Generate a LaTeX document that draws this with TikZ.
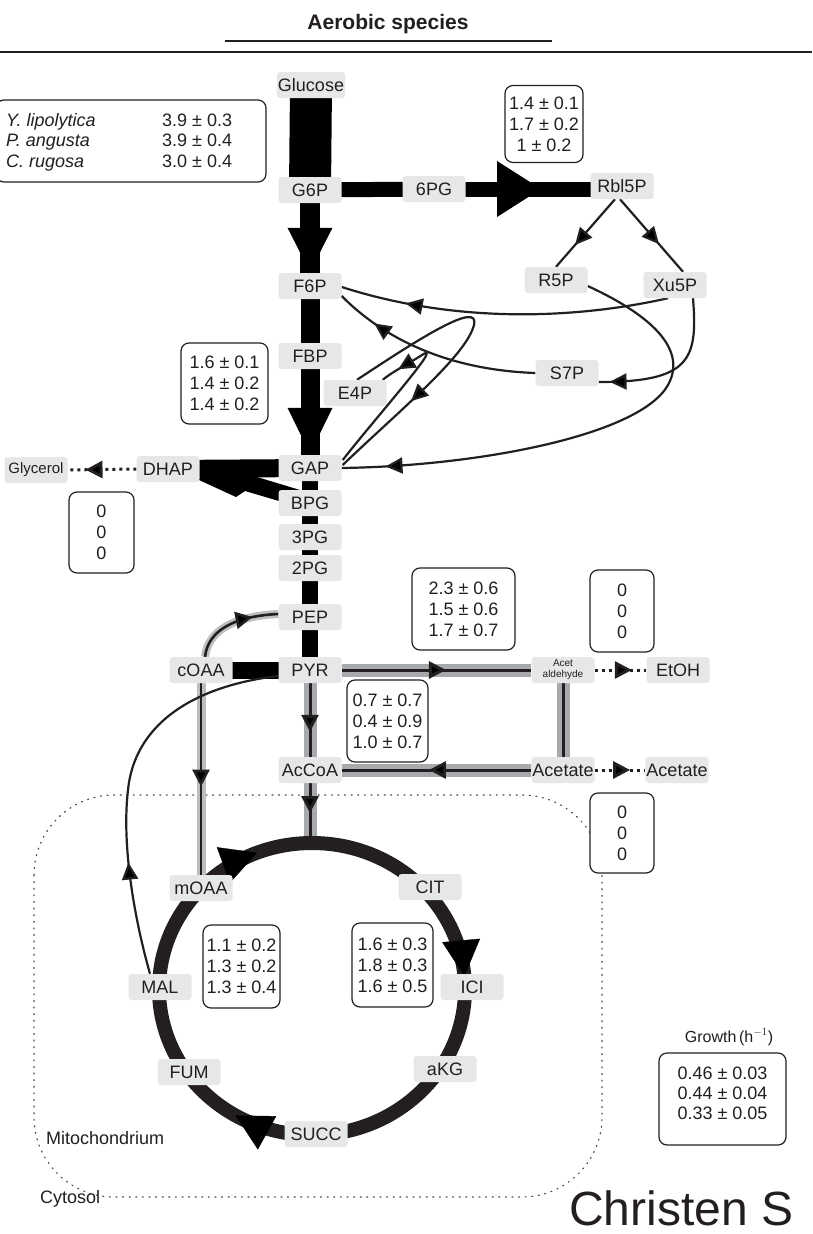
\documentclass[tikz,border=0pt]{standalone}
\usepackage{fontspec}
\setmainfont{Liberation Sans}
\usetikzlibrary{arrows.meta,decorations.markings,calc}
\definecolor{nodegray}{HTML}{E6E7E8}
\definecolor{bandgray}{HTML}{A7A9AC}
\definecolor{ink}{HTML}{231F20}
\pgfdeclarelayer{bg}
\pgfsetlayers{bg,main}
\begin{document}
\begin{tikzpicture}[x=1pt,y=-1pt,color=ink,
 met/.style={fill=nodegray, rounded corners=3pt, minimum width=63pt, minimum height=26pt, inner sep=1pt, font=\fontsize{18}{20}\selectfont},
 fluxbox/.style={draw=ink, fill=white, line width=1.2pt, rounded corners=8pt, align=center, inner sep=0pt, font=\fontsize{18}{21}\selectfont},
 lbl/.style={font=\fontsize{18}{20}\selectfont, inner sep=0pt},
 thinline/.style={draw=ink, line width=2.2pt},
 midarrow/.style={postaction={decorate}, decoration={markings, mark=at position #1 with {\arrow{Triangle[length=17pt,width=16pt]}}}},
 bigmid/.style={postaction={decorate}, decoration={markings, mark=at position #1 with {\arrow{Triangle[length=17pt,width=17pt]}}}},
 ringarrow/.style={postaction={decorate}, decoration={markings, mark=at position 1 with {\arrow{Triangle[length=36pt,width=38pt]}}}},
 band/.style={draw=bandgray, line width=13pt},
 core/.style={draw=ink, line width=3pt},
 dotline/.style={draw=ink, line width=3pt, dash pattern=on 3pt off 4pt},
 mitoline/.style={draw=ink!85, line width=1.1pt, dash pattern=on 1.1pt off 5.5pt, line cap=round},
 ringline/.style={draw=ink, line width=14pt}
]
\useasboundingbox (0,0) rectangle (812,1234);

% ---------- title ----------
\node[font=\bfseries\fontsize{21}{24}\selectfont] (title) at (388,24) {Aerobic species};
\draw[line width=1.3pt] (225,41) -- (552,41);
\draw[line width=1.3pt] (0,52) -- (812,52);

% ---------- metabolites ----------
\node[met, minimum width=68pt] (glucose) at (311,85) {Glucose};
\node[met] (g6p) at (310,190) {G6P};
\node[met] (pg6) at (434,189) {6PG};
\node[met] (rbl5p) at (622,186) {Rbl5P};
\node[met] (r5p) at (556,280) {R5P};
\node[met] (xu5p) at (675,285) {Xu5P};
\node[met] (f6p) at (310,286) {F6P};
\node[met] (fbp) at (310,356) {FBP};
\node[met] (s7p) at (567,373) {S7P};
\node[met] (e4p) at (355,393) {E4P};
\node[met] (gap) at (310,468) {GAP};
\node[met] (dhap) at (168,469) {DHAP};
\node[met, font=\fontsize{15}{17}\selectfont] (glycerol) at (36,470) {Glycerol};
\node[met] (bpg) at (310,503) {BPG};
\node[met] (pg3) at (310,537) {3PG};
\node[met] (pg2) at (310,568) {2PG};
\node[met] (pep) at (310,617) {PEP};
\node[met] (pyr) at (310,670) {PYR};
\node[met] (coaa) at (201,670) {cOAA};
\node[met, align=center, font=\fontsize{10}{11}\selectfont] (acet) at (563,670) {Acet\\aldehyde};
\node[met] (etoh) at (678,670) {EtOH};
\node[met] (accoa) at (310,770) {AcCoA};
\node[met] (acetate) at (563,770) {Acetate};
\node[met] (acetate2) at (677,770) {Acetate};
\node[met] (moaa) at (201,888) {mOAA};
\node[met] (cit) at (430,887) {CIT};
\node[met] (mal) at (160,987) {MAL};
\node[met] (ici) at (472,987) {ICI};
\node[met] (fum) at (189,1072) {FUM};
\node[met] (akg) at (445,1069) {aKG};
\node[met] (succ) at (316,1134) {SUCC};

\coordinate (tca) at (312,989);
\coordinate (ringtop) at ($(tca)+(270:153 and 146)$);

% ---------- connectors (background layer) ----------
\begin{pgfonlayer}{bg}
 \fill[white] (0,0) rectangle (812,1234);
 % mitochondrion
 \draw[mitoline, rounded corners=80pt] (34,795) rectangle (602,1197);

 % thick glycolysis / PPP bars
 \draw[line width=42pt] (glucose.center) -- (g6p.center);
 \draw[line width=15pt] (g6p.center) -- (pg6.center);
 \draw[line width=15pt] (pg6.center) -- (pg6.center -| rbl5p.center);
 \fill ($(pg6.center)+(63,-28)$) -- ($(pg6.center)+(63,28)$) -- ($(pg6.center)+(107,0)$) -- cycle;
 \draw[line width=20pt] (g6p.center) -- (f6p.center);
 \fill ($(f6p.north)+(-22.5,-45)$) -- ($(f6p.north)+(22.5,-45)$) -- ($(f6p.north)+(0,-1)$) -- cycle;
 \draw[line width=19pt] (f6p.center) -- (gap.center);
 \fill ($(gap.north)+(-22.5,-47)$) -- ($(gap.north)+(22.5,-47)$) -- ($(gap.north)+(0,-1)$) -- cycle;
 \draw[line width=16pt] (gap.center) -- (pyr.center);
 \draw[line width=17pt] (coaa.center) -- (pyr.center);
 % DHAP <- GAP / BPG
 \draw[line width=18pt] (dhap.center) -- (gap.center);
 \fill (257,477) -- (300,490) -- (296,506) -- (245,491) -- (236,497) -- (199,480) -- (199,468) -- cycle;

 % PPP thin arrows
 \draw[thinline, midarrow=0.68] ($(rbl5p.south)+(-7,0)$) -- ($(r5p.north)+(0,0)$);
 \draw[thinline, midarrow=0.62] ($(rbl5p.south)+(-2,0)$) -- ($(xu5p.north)+(8,0)$);
 \draw[thinline, midarrow=0.8] ($(xu5p.south)+(-7,0)$) .. controls (580,318) and (460,325) .. ($(f6p.east)+(0,1)$);
 \draw[thinline, midarrow=0.8] (s7p.west) .. controls (450,370) and (385,340) .. ($(f6p.east)+(0,10)$);
 \draw[thinline, midarrow=0.93] ($(xu5p.south)+(18,0)$) .. controls (698,360) and (690,382) .. ($(s7p.east)+(0,9)$);
 \draw[thinline, midarrow=0.91] ($(r5p.east)+(0,6)$) .. controls (640,310) and (690,345) .. (668,385) .. controls (640,435) and (480,466) .. ($(gap.east)+(0,0)$);
 \draw[thinline, midarrow=0.72] ($(e4p.north)+(2,0)$) .. controls (420,338) and (480,300) .. (474,325) .. controls (466,356) and (400,410) .. ($(gap.east)+(1,-3)$);
 \draw[thinline, midarrow=0.9] ($(gap.east)+(1,-8)$) .. controls (378,415) and (445,340) .. (422,355) .. controls (408,364) and (392,372) .. ($(e4p.north east)+(-4,0)$);

 % dotted outputs
 \draw[dotline, bigmid=0.74] (dhap.west) -- (glycerol.east);
 \draw[dotline, bigmid=0.72] (acet.east) -- (etoh.west);
 \draw[dotline, bigmid=0.7] (acetate.east) -- (acetate2.west);

 % grey-banded fluxes
 \draw[band] (pyr.east) -- (acet.west);
 \draw[core, bigmid=0.55] (pyr.east) -- (acet.west);
 \draw[band] (acet.south) -- (acetate.north);
 \draw[core] (acet.south) -- (acetate.north);
 \draw[band] (acetate.west) -- (accoa.east);
 \draw[core, bigmid=0.54] (acetate.west) -- (accoa.east);
 \draw[band] (pyr.south) -- (accoa.north);
 \draw[core, bigmid=0.66] (pyr.south) -- (accoa.north);
 \draw[band] (accoa.south) -- (accoa.south |- ringtop);
 \draw[core, bigmid=0.5] (accoa.south) -- (accoa.south |- ringtop);
 \draw[draw=bandgray!75, line width=9pt] (coaa.south) -- (moaa.north);
 \draw[draw=ink, line width=2.6pt, bigmid=0.54] (coaa.south) -- (moaa.north);
 \draw[draw=bandgray!75, line width=8pt] ($(coaa.north)+(4,0)$) .. controls (208,630) and (235,616) .. ($(pep.west)+(0,-3)$);
 \draw[draw=ink, line width=2.6pt, bigmid=0.72] ($(coaa.north)+(4,0)$) .. controls (208,630) and (235,616) .. ($(pep.west)+(0,-3)$);

 % MAL -> PYR
 \draw[thinline, midarrow=0.29] ($(mal.north)+(-10,0)$) .. controls (132,910) and (122,840) .. (128,790) .. controls (135,720) and (200,685) .. ($(pyr.west)+(0,6)$);

 % TCA ring
 \draw[ringline] (tca) ellipse [x radius=153, y radius=146];
 \path[ringarrow] ($(tca)+(200:153 and 146)$) arc[start angle=200, end angle=249, x radius=153, y radius=146];
 \path[ringarrow] ($(tca)+(300:153 and 146)$) arc[start angle=300, end angle=355, x radius=153, y radius=146];
 \path[ringarrow] ($(tca)+(60:153 and 146)$) arc[start angle=60, end angle=120, x radius=153, y radius=146];
\end{pgfonlayer}

% ---------- flux boxes ----------
\node[fluxbox, minimum width=270pt, minimum height=82pt] (spbox) at (131,141) {};
\node[lbl, anchor=base west, font=\itshape\fontsize{18}{20}\selectfont] (sp1) at (6,126.5) {Y. lipolytica};
\node[lbl, anchor=base west, font=\itshape\fontsize{18}{20}\selectfont] (sp2) at (6,146.5) {P. angusta};
\node[lbl, anchor=base west, font=\itshape\fontsize{18}{20}\selectfont] (sp3) at (6,167) {C. rugosa};
\node[lbl, anchor=base west] (v1) at (162,126.5) {3.9 ± 0.3};
\node[lbl, anchor=base west] (v2) at (162,146.5) {3.9 ± 0.4};
\node[lbl, anchor=base west] (v3) at (162,167) {3.0 ± 0.4};

\node[fluxbox, minimum width=78pt, minimum height=77pt] (box1) at (544,124) {1.4 ± 0.1\\1.7 ± 0.2\\1 ± 0.2};
\node[fluxbox, minimum width=87pt, minimum height=81pt] (box2) at (224.5,383.5) {1.6 ± 0.1\\1.4 ± 0.2\\1.4 ± 0.2};
\node[fluxbox, minimum width=65pt, minimum height=81pt] (box3) at (101.5,532.5) {0\\0\\0};
\node[fluxbox, minimum width=103pt, minimum height=82pt] (box4) at (463.5,609) {2.3 ± 0.6\\1.5 ± 0.6\\1.7 ± 0.7};
\node[fluxbox, minimum width=64pt, minimum height=82pt] (box5) at (622,611) {0\\0\\0};
\node[fluxbox, minimum width=81pt, minimum height=82pt] (box6) at (387.5,721) {0.7 ± 0.7\\0.4 ± 0.9\\1.0 ± 0.7};
\node[fluxbox, minimum width=64pt, minimum height=80pt] (box7) at (622,833) {0\\0\\0};
\node[fluxbox, minimum width=77pt, minimum height=83pt] (box8) at (241.5,966.5) {1.1 ± 0.2\\1.3 ± 0.2\\1.3 ± 0.4};
\node[fluxbox, minimum width=81pt, minimum height=84pt] (box9) at (392.5,965) {1.6 ± 0.3\\1.8 ± 0.3\\1.6 ± 0.5};

\node[font=\fontsize{16}{18}\selectfont] (growthlbl) at (729,1037) {Growth\,(h$^{-1}$)};
\node[fluxbox, minimum width=127pt, minimum height=92pt] (growthbox) at (722.5,1099) {};
\node[lbl, align=center, font=\fontsize{18}{20}\selectfont] (growthtxt) at (722.5,1093) {0.46 ± 0.03\\0.44 ± 0.04\\0.33 ± 0.05};

% ---------- compartment labels ----------
\node[lbl, anchor=west] (mito) at (46,1138) {Mitochondrium};
\node[lbl, anchor=west] (cyto) at (40,1199) {Cytosol};

\node[anchor=west, inner sep=0pt, font=\fontsize{48}{50}\selectfont] (credit) at (569,1208) {Christen S};
\end{tikzpicture}
\end{document}
